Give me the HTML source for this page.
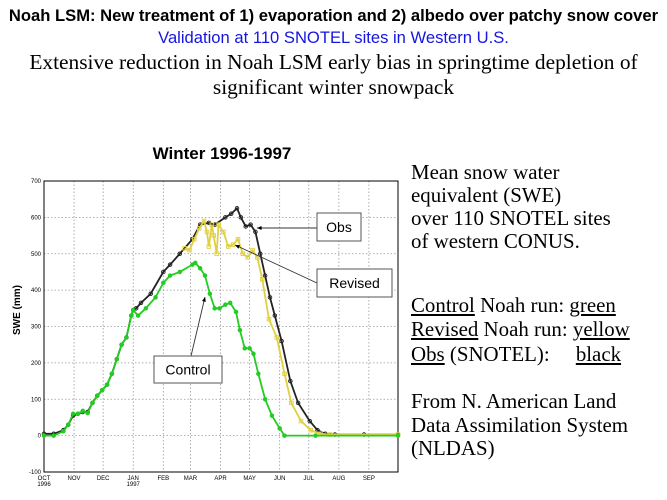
<!DOCTYPE html>
<html><head><meta charset="utf-8"><style>
body{margin:0;background:#fff;width:667px;height:500px;overflow:hidden;position:relative;font-family:"Liberation Sans",sans-serif}
.t{position:absolute;white-space:nowrap}
.s{font-family:"Liberation Serif",serif;font-size:20.9px;color:#000}
u{text-decoration:underline}
</style></head><body>
<div class="t" style="left:0;width:667px;text-align:center;top:6px;font-size:16.6px;font-weight:bold">Noah LSM: New treatment of 1) evaporation and 2) albedo over patchy snow cover</div>
<div class="t" style="left:0;width:667px;text-align:center;top:28px;font-size:16.6px;color:#1515e0">Validation at 110 SNOTEL sites in Western U.S.</div>
<div class="t s" style="left:0;width:667px;text-align:center;top:50px;font-size:21.4px">Extensive reduction in Noah LSM early bias in springtime depletion of</div>
<div class="t s" style="left:0;width:667px;text-align:center;top:75px;font-size:21.4px">significant winter snowpack</div>

<div class="t s" style="left:411px;top:160px">Mean snow water</div>
<div class="t s" style="left:411px;top:183px">equivalent (SWE)</div>
<div class="t s" style="left:411px;top:206px">over 110 SNOTEL sites</div>
<div class="t s" style="left:411px;top:229px">of western CONUS.</div>
<div class="t s" style="left:411px;top:293px"><u>Control</u> Noah run: <u>green</u></div>
<div class="t s" style="left:411px;top:317px"><u>Revised</u> Noah run: <u>yellow</u></div>
<div class="t s" style="left:411px;top:342px"><u>Obs</u> (SNOTEL):&nbsp;&nbsp;&nbsp;&nbsp; <u>black</u></div>
<div class="t s" style="left:411px;top:389px">From N. American Land</div>
<div class="t s" style="left:411px;top:413px">Data Assimilation System</div>
<div class="t s" style="left:411px;top:436px">(NLDAS)</div>

<svg id="chart" style="position:absolute;left:0;top:0" width="667" height="500"></svg>
<script>
const yTicks=[700,600,500,400,300,200,100,0,-100];
const monthLabels=["OCT","NOV","DEC","JAN","FEB","MAR","APR","MAY","JUN","JUL","AUG","SEP"];
const monthDays=[0,31,61,92,123,151,182,212,243,273,304,335];
const obsDays=[0,10,20,25,30,35,40,45,50,55,60,65,70,75,80,85,90,92,95,100,110,123,130,140,153,161,170,176,187,193,199,203,208,213,218,223,228,233,238,245,254,262,274,282,290,300,330,365];
const obsVals=[5,5,15,30,55,60,65,65,90,110,125,140,170,210,250,270,330,345,350,365,390,450,470,500,540,580,585,580,600,610,625,600,575,580,560,500,440,380,330,260,150,90,40,15,5,3,3,3];
const ctlDays=[0,10,20,25,30,35,40,45,50,55,60,65,70,75,80,85,90,92,97,105,115,123,130,140,153,156,161,166,171,176,181,187,192,198,202,207,212,216,221,228,235,243,248,280,365];
const ctlVals=[0,0,12,30,60,60,68,62,90,110,125,140,170,210,250,270,330,345,330,350,380,420,440,450,470,475,460,440,390,350,350,360,365,340,290,240,240,225,170,100,55,20,0,0,0];
const revDays=[145,150,155,160,165,168,170,173,175,178,180,185,190,195,200,205,210,215,220,225,232,240,248,255,265,275,285,295,365];
const revVals=[515,510,540,570,590,560,520,580,550,500,580,560,520,525,540,500,490,510,490,430,320,270,170,90,40,15,5,3,3];

const svg=document.getElementById('chart');const NS='http://www.w3.org/2000/svg';
const L=44,R=398,T=181,B=472;
const x=d=>L+d*(R-L)/365;
const y=v=>T+(700-v)*(B-T)/800;
function mk(tag,a,parent){const e=document.createElementNS(NS,tag);for(const k in a)e.setAttribute(k,a[k]);(parent||svg).appendChild(e);return e;}
let e;
e=mk('text',{x:222,y:159,'text-anchor':'middle','font-size':'17','font-weight':'bold','font-family':'Liberation Sans, sans-serif'});e.textContent='Winter 1996-1997';


yTicks.forEach(v=>{
 const g=mk('line',{x1:L,x2:R,y1:y(v),y2:y(v),stroke:'#999','stroke-dasharray':'1.5,2','stroke-width':'0.8'});
 
 
 const t=mk('text',{x:L-3,y:y(v)+2,'text-anchor':'end','font-size':'6','font-family':'Liberation Sans, sans-serif'});t.textContent=v;
 
 
});
monthDays.forEach((d,i)=>{
 if(i>0){const g=mk('line',{x1:x(d),x2:x(d),y1:T,y2:B,stroke:'#999','stroke-dasharray':'1.5,2','stroke-width':'0.8'});
 
 }
 const t=mk('text',{x:x(d),y:B+8,'text-anchor':'middle','font-size':'6','font-family':'Liberation Sans, sans-serif'});t.textContent=monthLabels[i];
 
 
});
[[0,'1996'],[92,'1997']].forEach(p=>{const t=mk('text',{x:x(p[0]),y:B+14,'text-anchor':'middle','font-size':'6','font-family':'Liberation Sans, sans-serif'});t.textContent=p[1];
 
 });
e=mk('rect',{x:L,y:T,width:R-L,height:B-T,fill:'none',stroke:'#000','stroke-width':'1'});


e=mk('text',{transform:'translate(20,310) rotate(-90)','text-anchor':'middle','font-size':'10','font-weight':'bold','font-family':'Liberation Sans, sans-serif'});e.textContent='SWE (mm)';



function series(days,vals,color,name,marker){
 const pts=days.map((d,i)=>x(d)+','+y(vals[i])).join(' ');
 const p=mk('polyline',{points:pts,fill:'none',stroke:color,'stroke-width':'1.8'});
 
 
 days.forEach((d,i)=>{
  let m;
  if(marker==='sq')m=mk('rect',{x:x(d)-1.8,y:y(vals[i])-1.8,width:3.6,height:3.6,fill:'none',stroke:color,'stroke-width':'0.9'});
  else m=mk('circle',{cx:x(d),cy:y(vals[i]),r:1.8,fill:marker==='dot'?color:'none',stroke:color,'stroke-width':'0.9'});
  
  
 });
}
series(obsDays,obsVals,'#222','obs','circ');
series(revDays,revVals,'#e0d040','revised','sq');
series(ctlDays,ctlVals,'#22cc22','control','dot');

function box(x0,y0,w,h,label,name){
 const r=mk('rect',{x:x0,y:y0,width:w,height:h,fill:'#fff',stroke:'#555','stroke-width':'1'});
 
 
 const t=mk('text',{x:x0+w/2,y:y0+h/2+5,'text-anchor':'middle','font-size':'14','font-family':'Liberation Sans, sans-serif'});t.textContent=label;
 
 
}
function arrow(x1,y1,x2,y2,name){
 const l=mk('line',{x1,y1,x2,y2,stroke:'#333','stroke-width':'0.9'});
 
 
 const a=Math.atan2(y2-y1,x2-x1),s=5;
 const h=mk('polygon',{points:`${x2},${y2} ${x2-s*Math.cos(a-0.4)},${y2-s*Math.sin(a-0.4)} ${x2-s*Math.cos(a+0.4)},${y2-s*Math.sin(a+0.4)}`,fill:'#000'});
 
 
}
arrow(317,228,257,228,'obs');
arrow(317,283,235,245,'revised');
arrow(191,356,205,297,'control');
box(317,213,44,28,'Obs','obs');
box(317,269,75,28,'Revised','revised');
box(154,356,68,27,'Control','control');
</script>
</body></html>
